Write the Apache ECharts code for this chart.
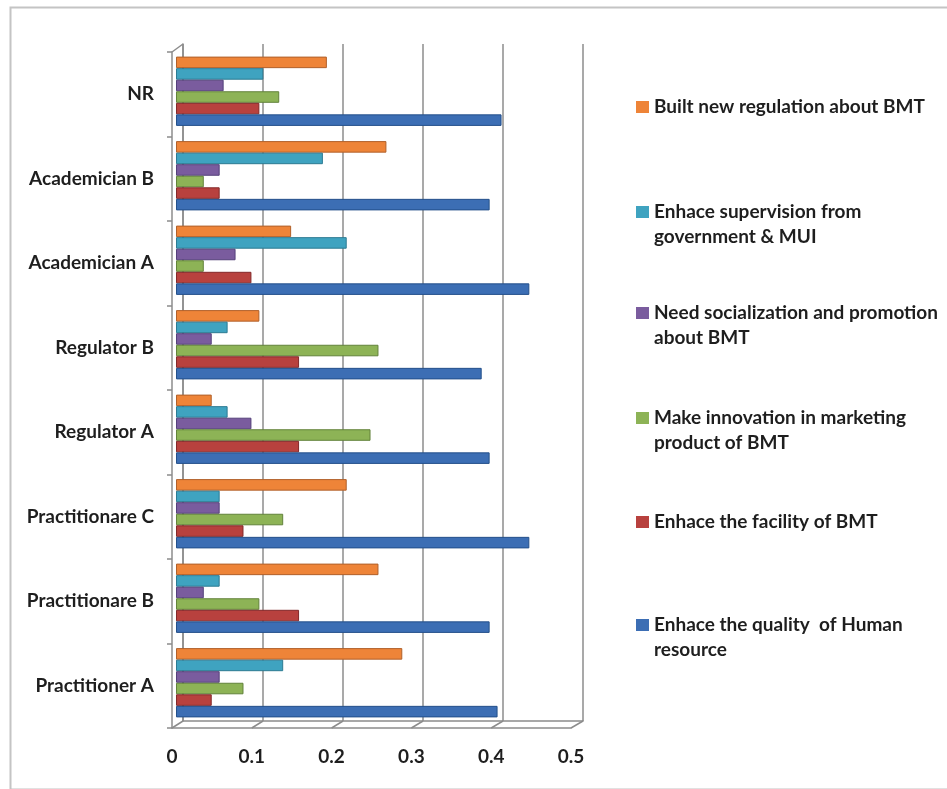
<!DOCTYPE html>
<html>
<head>
<meta charset="utf-8">
<script src="https://cdn.jsdelivr.net/npm/echarts@6/dist/echarts.min.js"></script>
<style>
  html, body { margin: 0; padding: 0; background: #fff; }
  #chart { width: 947px; height: 789px; }
</style>
</head>
<body>
<div id="chart"></div>
<script>
// Categories, bottom to top (Excel bar-chart order)
const categories = ['Practitioner A', 'Practitionare B', 'Practitionare C', 'Regulator A', 'Regulator B', 'Academician A', 'Academician B', 'NR'];

// Series values (same order as categories)
const builtNewRegulation   = [0.285, 0.255, 0.215, 0.045, 0.105, 0.145, 0.265, 0.19];
const enhaceSupervision    = [0.135, 0.055, 0.055, 0.065, 0.065, 0.215, 0.185, 0.11];
const needSocialization    = [0.055, 0.035, 0.055, 0.095, 0.045, 0.075, 0.055, 0.06];
const makeInnovation       = [0.085, 0.105, 0.135, 0.245, 0.255, 0.035, 0.035, 0.13];
const enhaceFacility       = [0.045, 0.155, 0.085, 0.155, 0.155, 0.095, 0.055, 0.105];
const enhaceHumanResource  = [0.405, 0.395, 0.445, 0.395, 0.385, 0.445, 0.395, 0.41];

const seriesNames = [
  'Built new regulation about BMT',
  'Enhace supervision from\ngovernment & MUI',
  'Need socialization and promotion\nabout BMT',
  'Make innovation in marketing\nproduct of BMT',
  'Enhace the facility of BMT',
  'Enhace the quality  of Human\nresource'
];
const seriesValues = [builtNewRegulation, enhaceSupervision, needSocialization, makeInnovation, enhaceFacility, enhaceHumanResource];

// x-axis ticks
const xMin = 0, xMax = 0.5, xInterval = 0.1;
const xTicks = [0, 0.1, 0.2, 0.3, 0.4, 0.5];

const colors  = ['#EE8438', '#3FA3C0', '#7A5C9E', '#8DB356', '#B8413E', '#3C6EB4'];
const borders = ['#B0602A', '#2C7A92', '#54407A', '#62823A', '#82292A', '#24508A'];

const FONT = 'Lato, "Open Sans", sans-serif';
const TXT = '#1e1e1e';
const GRID_C = '#8c8c8c';
const FS = 19;

const chart = echarts.init(document.getElementById('chart'), null, { renderer: 'canvas' });

const legendTops = [94.5, 174.5, 275.5, 380.5, 509.5, 587.5];

const option = {
  backgroundColor: '#ffffff',
  animation: false,
  graphic: [{
    type: 'rect',
    left: 8, top: 5,
    shape: { width: 980, height: 782 },
    style: { fill: 'none', stroke: '#c4c4c4', lineWidth: 2 },
    z: -10
  }],
  grid: [
    { left: 183, top: 44, width: 400, height: 677 },   // back wall
    { left: 176, top: 49, width: 397, height: 676 },   // bars
    { left: 172, top: 52, width: 399, height: 676 }    // front axes
  ],
  xAxis: [
    { gridIndex: 0, type: 'value', min: xMin, max: xMax, interval: xInterval,
      axisLabel: { show: false }, axisTick: { show: false },
      axisLine: { show: true, lineStyle: { color: GRID_C, width: 1.5 } },
      splitLine: { show: true, lineStyle: { color: GRID_C, width: 1.5 } } },
    { gridIndex: 1, type: 'value', min: xMin, max: xMax, interval: xInterval, show: false },
    { gridIndex: 2, type: 'value', min: xMin, max: xMax, interval: xInterval,
      axisLabel: { show: true, margin: 19, fontSize: FS, fontWeight: 'bold', color: TXT, fontFamily: FONT,
        formatter: v => String(+v.toFixed(1)) },
      axisTick: { show: false },
      axisLine: { show: true, lineStyle: { color: GRID_C, width: 1.5 } },
      splitLine: { show: false } }
  ],
  yAxis: [
    { gridIndex: 0, type: 'category', data: categories,
      axisLabel: { show: false }, axisTick: { show: false },
      axisLine: { show: true, lineStyle: { color: GRID_C, width: 1.5 } },
      splitLine: { show: false } },
    { gridIndex: 1, type: 'category', data: categories, show: false },
    { gridIndex: 2, type: 'category', data: categories,
      axisLabel: { show: true, margin: 18, padding: [4, 0, 0, 0], fontSize: FS, fontWeight: 'bold', color: TXT, fontFamily: FONT },
      axisTick: { show: true, length: 5, lineStyle: { color: GRID_C, width: 1.5 } },
      axisLine: { show: true, lineStyle: { color: GRID_C, width: 1.5 } },
      splitLine: { show: false } }
  ],
  legend: seriesNames.map((name, i) => ({
    show: true,
    left: 636,
    top: legendTops[i],
    orient: 'vertical',
    padding: 0,
    itemWidth: 13,
    itemHeight: 12,
    itemGap: 0,
    icon: 'rect',
    itemStyle: { borderWidth: 0 },
    data: [name],
    formatter: n => (n.indexOf('\n') >= 0 ? ' \n' + n : n),
    textStyle: { fontSize: FS, fontWeight: 'bold', lineHeight: 25, color: TXT, fontFamily: FONT },
    selectedMode: false
  })),
  series: seriesNames.map((name, i) => ({
    type: 'bar',
    name: name,
    xAxisIndex: 1,
    yAxisIndex: 1,
    data: seriesValues[i],
    barGap: '0%',
    barCategoryGap: '18%',
    itemStyle: { color: colors[i], borderColor: borders[i], borderWidth: 1 },
    emphasis: { disabled: true }
  }))
};

chart.setOption(option);

// 3D frame connectors (front floor edge to back floor edge, left wall top), from axis scales
const extra = [];
const fr = chart.getModel().getComponent('grid', 2).coordinateSystem.getRect();
const br = chart.getModel().getComponent('grid', 0).coordinateSystem.getRect();
xTicks.forEach(v => {
  const front = chart.convertToPixel({ gridIndex: 2 }, [v, categories[0]]);
  const back = chart.convertToPixel({ gridIndex: 0 }, [v, categories[0]]);
  extra.push({
    type: 'line',
    shape: { x1: front[0], y1: fr.y + fr.height, x2: back[0], y2: br.y + br.height },
    style: { stroke: GRID_C, lineWidth: 1.5 },
    silent: true
  });
});
extra.push({
  type: 'line',
  shape: { x1: fr.x, y1: fr.y, x2: br.x, y2: br.y },
  style: { stroke: GRID_C, lineWidth: 1.5 },
  silent: true
});
chart.setOption({ graphic: option.graphic.concat(extra) });
</script>
</body>
</html>
